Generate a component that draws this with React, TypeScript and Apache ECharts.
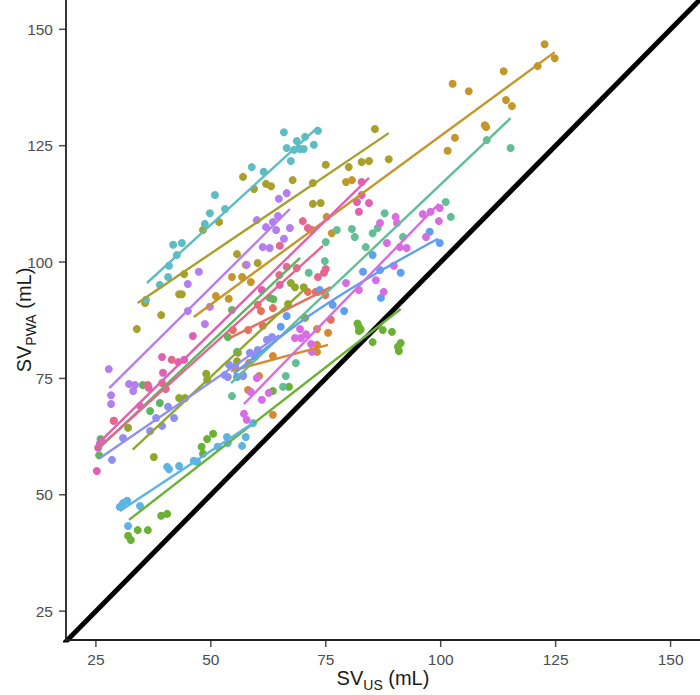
import React, { useEffect, useRef } from "react";
import * as echarts from "echarts";

// Axis tick values (both axes share the same scale)
const tickValues = [25, 50, 75, 100, 125, 150];
const xRange = [18.5, 156.4];
const yRange = [18.8, 156.3];

// Each subject: paired stroke volume readings [SV_US, SV_PWA] and its fitted line
const teal = [[35.9,91.9],[38.9,95.1],[40.7,96.8],[40.9,99.2],[42.6,101.5],[41.8,103.7],[43.7,104.1],[48.7,108.2],[49.8,110.5],[50.9,114.4],[53.1,111.4],[58.9,120.4],[61.5,119.4],[65.9,127.9],[66.5,124.5],[67.4,121.7],[68.7,126.0],[68.1,124.1],[69.4,124.3],[70.2,124.3],[70.5,126.9],[72.4,125.2],[73.3,128.2]];
const tealFit = [[36.1,95.5],[73.3,129.0]];

const olive = [[33.9,85.6],[35.7,91.2],[39.2,88.6],[43.1,93.1],[43.7,93.1],[44.2,97.4],[48.3,106.9],[51.8,108.6],[55.7,101.7],[57.0,118.3],[59.4,115.7],[62.0,116.8],[63.1,116.3],[67.8,117.6],[72.2,117.0],[72.2,112.5],[73.9,112.7],[75.0,120.9],[80.0,120.4],[82.8,121.5],[84.4,121.7],[85.7,128.6],[88.7,122.1],[60.2,99.8]];
const oliveFit = [[34.1,91.2],[88.7,127.7]];

const gold = [[122.6,146.8],[124.8,143.8],[121.1,142.1],[113.7,141.0],[102.6,138.3],[106.1,136.7],[114.2,134.8],[115.5,133.5],[109.6,129.4],[109.9,129.0],[103.1,126.7],[101.5,123.9],[79.4,117.2],[80.7,117.6],[75.2,109.7],[76.3,106.2],[54.6,96.8],[56.8,96.8],[58.7,95.7],[51.1,92.7],[53.9,92.1],[57.6,99.4]];
const goldFit = [[46.3,88.2],[124.8,145.1]];

const seaGreen = [[101.1,112.9],[102.2,109.7],[115.2,124.5],[110.0,126.2],[87.8,110.5],[80.7,107.1],[81.3,105.4],[77.4,106.9],[75.0,104.3],[85.2,106.2],[86.3,107.3],[83.7,103.2],[74.8,100.2],[91.8,105.4],[71.3,97.7],[68.5,78.3],[66.3,75.5],[65.7,73.2],[54.6,71.2]];
const seaGreenFit = [[54.4,74.0],[115.2,130.9]];

const violet = [[27.8,77.0],[28.3,71.4],[28.3,69.5],[28.9,65.9],[32.2,73.8],[33.1,72.3],[33.5,73.6],[45.0,95.3],[47.4,97.9],[49.8,90.4],[48.7,86.7],[45.0,89.5],[60.0,109.0],[62.0,107.5],[63.5,108.6],[64.2,106.9],[64.6,109.9],[67.2,107.3],[65.9,105.0],[64.8,113.6],[66.5,114.8],[61.3,103.2],[62.8,103.0],[57.8,99.4]];
const violetFit = [[27.9,72.9],[67.2,111.4]];

const magenta = [[96.1,110.3],[97.8,110.8],[99.8,111.6],[99.6,108.8],[90.2,109.7],[90.5,108.4],[86.8,108.4],[88.3,104.1],[91.1,103.2],[92.6,103.0],[96.8,105.4],[89.8,99.2],[85.9,96.1],[79.4,95.5],[82.2,94.0],[87.6,93.6],[69.4,85.6],[68.3,83.7],[69.6,83.7],[70.7,84.5],[71.8,82.4],[72.0,80.7],[60.0,75.1],[58.7,72.1],[62.6,71.9],[61.1,70.4],[57.2,67.4],[57.8,66.1]];
const magentaFit = [[57.2,69.5],[99.6,112.5]];

const pink = [[25.2,55.1],[25.5,60.1],[26.3,61.5],[39.4,79.6],[39.6,76.2],[36.5,73.0],[46.1,84.1],[42.9,78.5],[44.2,79.0],[34.6,69.1],[82.8,117.2],[81.8,112.9],[82.2,110.8],[84.4,112.7],[82.8,114.4],[61.1,94.0],[65.0,95.1]];
const pinkFit = [[25.2,60.7],[84.4,118.1]];

const rose = [[70.0,108.8],[71.1,107.3],[72.0,106.9],[65.0,103.5],[66.5,99.0],[68.7,98.7],[74.6,97.7],[73.3,96.8],[75.0,98.5],[64.9,97.2],[41.5,79.0],[39.4,74.0],[36.3,73.6],[40.2,72.7],[28.9,65.9]];
const roseFit = [[25.5,60.0],[74.4,103.5]];

const red = [[60.2,90.8],[60.9,89.5],[63.5,90.1],[71.1,93.6],[73.3,93.6],[54.8,85.4],[72.8,93.6],[74.9,92.9],[76.1,87.6],[58.1,85.4],[61.3,86.3]];
const redFit = [[54.2,83.7],[76.1,94.6]];

const orange = [[63.5,79.8],[58.3,78.3],[73.1,82.2],[73.1,80.7],[60.5,75.5],[58.1,72.5],[63.5,67.2],[55.9,80.5],[75.5,84.8],[73.1,85.6]];
const orangeFit = [[54.4,76.6],[75.5,82.2]];

const lime = [[32.0,41.2],[32.6,40.3],[34.1,42.4],[36.3,42.4],[39.2,45.5],[40.5,45.9],[48.0,60.3],[48.3,58.8],[49.2,62.0],[50.5,63.1],[63.5,72.3],[67.0,73.2],[82.2,86.1],[81.9,86.8],[82.6,85.5],[82.2,85.2],[87.4,85.4],[89.4,85.0],[85.2,82.8],[91.3,82.6],[90.7,81.8],[90.9,80.9]];
const limeFit = [[32.2,44.6],[91.3,89.9]];

const green = [[35.2,73.6],[36.8,68.0],[38.9,69.7],[53.7,83.9],[55.7,80.7],[62.8,92.3],[63.6,92.0],[54.6,89.7],[25.7,58.5],[26.0,62.0]];
const greenFit = [[25.7,60.0],[69.4,100.9]];

const oliveGreen = [[49.0,76.0],[49.2,74.7],[43.1,70.8],[44.4,70.8],[37.6,58.1],[32.0,64.4],[67.4,95.5],[68.3,94.6],[70.2,94.6],[70.5,88.0],[66.8,91.0],[55.7,78.7]];
const oliveGreenFit = [[33.0,59.7],[70.9,94.6]];

const skyBlue = [[30.2,47.4],[30.9,48.2],[31.8,48.7],[34.6,47.6],[32.0,43.3],[40.5,56.0],[40.9,55.5],[43.1,56.2],[46.3,57.3],[47.0,57.1],[51.5,60.3],[53.7,61.1],[56.8,60.5],[53.5,62.4],[57.6,62.4],[59.2,65.4]];
const skyBlueFit = [[30.2,46.5],[59.2,65.4]];

const blue = [[85.2,101.5],[83.1,97.9],[86.8,98.3],[91.3,97.7],[97.6,106.5],[99.8,104.1],[76.5,90.8],[79.0,89.5],[87.0,92.3],[73.7,94.0],[66.5,88.4],[65.2,86.1],[57.0,75.5],[55.7,75.3]];
const blueFit = [[55.0,76.0],[70.0,87.5],[85.0,97.0],[99.4,105.0]];

const lavender = [[58.5,80.5],[60.2,81.1],[59.6,79.6],[54.0,77.9],[55.3,77.5],[53.0,75.7],[53.7,75.3],[57.0,75.7],[63.3,83.9],[62.2,83.3],[38.1,66.5],[39.4,64.8],[40.7,68.9],[42.0,66.5],[36.8,63.7],[30.9,62.2],[25.9,61.1],[28.5,57.5]];
const lavenderFit = [[25.9,57.9],[64.9,84.3]];

const subjects = [
  { points: red, fit: redFit },
  { points: orange, fit: orangeFit },
  { points: gold, fit: goldFit },
  { points: olive, fit: oliveFit },
  { points: oliveGreen, fit: oliveGreenFit },
  { points: lime, fit: limeFit },
  { points: green, fit: greenFit },
  { points: seaGreen, fit: seaGreenFit },
  { points: teal, fit: tealFit },
  { points: skyBlue, fit: skyBlueFit },
  { points: blue, fit: blueFit },
  { points: lavender, fit: lavenderFit },
  { points: violet, fit: violetFit },
  { points: magenta, fit: magentaFit },
  { points: pink, fit: pinkFit },
  { points: rose, fit: roseFit },
];

const palette = [
  "#E2725F", "#D8892F", "#C5962A", "#A89F2C", "#8FA829", "#6BB234",
  "#5DB55F", "#62BE95", "#5DBDC2", "#5CB4E4", "#5F9EF2", "#8F8FF0",
  "#B47EEE", "#D86DE2", "#E160B4", "#E4678F",
];

const identity = [[0, 0], [200, 200]];

const FONT = "'Liberation Sans', Arial, sans-serif";
const AXIS_COLOR = "#222";
const TICK_LEN = 7;

export default function App() {
  const ref = useRef<HTMLDivElement>(null);

  useEffect(() => {
    if (!ref.current) return;
    const chart = echarts.init(ref.current, null, { renderer: "svg" });

    const series: any[] = [
      {
        type: "line",
        data: identity,
        showSymbol: false,
        clip: true,
        lineStyle: { color: "#000", width: 5 },
        z: 1,
        silent: true,
      },
      // left and bottom axis lines
      {
        type: "line",
        data: [[xRange[0], yRange[1]], [xRange[0], yRange[0]], [xRange[1], yRange[0]]],
        showSymbol: false,
        clip: false,
        lineStyle: { color: AXIS_COLOR, width: 1.8, cap: "square" },
        z: 6,
        silent: true,
      },
      // outward ticks on the x axis
      {
        type: "scatter",
        data: tickValues.map((v) => [v, yRange[0]]),
        symbol: "rect",
        symbolSize: [1.5, TICK_LEN],
        symbolOffset: [0, TICK_LEN / 2],
        clip: false,
        itemStyle: { color: AXIS_COLOR },
        z: 6,
        silent: true,
      },
      // outward ticks on the y axis
      {
        type: "scatter",
        data: tickValues.map((v) => [xRange[0], v]),
        symbol: "rect",
        symbolSize: [TICK_LEN, 1.5],
        symbolOffset: [-TICK_LEN / 2, 0],
        clip: false,
        itemStyle: { color: AXIS_COLOR },
        z: 6,
        silent: true,
      },
    ];

    subjects.forEach((s, i) => {
      series.push({
        type: "scatter",
        data: s.points,
        symbolSize: 8,
        itemStyle: { color: palette[i], opacity: 1 },
        z: 3,
      });
      series.push({
        type: "line",
        data: s.fit,
        showSymbol: false,
        smooth: s.fit.length > 2 ? 0.3 : false,
        lineStyle: { color: palette[i], width: 2.4 },
        z: 4,
      });
    });

    const richName = {
      a: { fontSize: 20, fontFamily: FONT, color: "#1a1a1a", verticalAlign: "bottom" },
      b: { fontSize: 14, fontFamily: FONT, color: "#1a1a1a", verticalAlign: "bottom", padding: [0, 0, -4, 0] },
    };

    chart.setOption({
      animation: false,
      backgroundColor: "#fff",
      grid: { left: 66, right: 0, top: 0, bottom: 55, containLabel: false, outerBoundsMode: "none" },
      xAxis: {
        type: "value",
        min: xRange[0],
        max: xRange[1],
        splitLine: { show: false },
        axisLine: { show: false },
        axisTick: { show: false },
        axisLabel: { customValues: tickValues, color: "#4D4D4D", fontSize: 15.5, fontFamily: FONT, margin: 11 },
        nameLocation: "middle",
        nameMoveOverlap: false,
        name: "{a|SV}{b|US}{a| (mL)}",
        nameGap: 28,
        nameTextStyle: { rich: richName },
      },
      yAxis: {
        type: "value",
        min: yRange[0],
        max: yRange[1],
        splitLine: { show: false },
        axisLine: { show: false },
        axisTick: { show: false },
        axisLabel: { customValues: tickValues, color: "#4D4D4D", fontSize: 15.5, fontFamily: FONT, margin: 13 },
        nameLocation: "middle",
        nameMoveOverlap: false,
        name: "{a|SV}{b|PWA}{a| (mL)}",
        nameGap: 32,
        nameRotate: 90,
        nameTextStyle: { rich: richName },
      },
      series,
    });

    return () => chart.dispose();
  }, []);

  return (
    <div
      ref={ref}
      style={{ position: "fixed", left: 0, top: 0, width: 700, height: 695, background: "#fff" }}
    />
  );
}
